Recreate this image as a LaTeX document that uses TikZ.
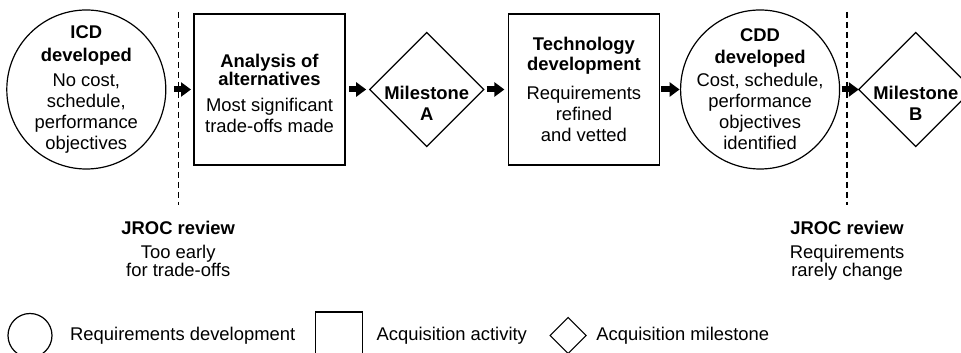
\documentclass[tikz,border=0pt]{standalone}
\usepackage{fontspec}
\setmainfont{Liberation Sans}
\usetikzlibrary{arrows.meta,shapes.geometric,positioning}

\begin{document}
\begin{tikzpicture} [
    x=1pt, y=1pt,
    font=\fontsize{18.4pt}{21pt}\selectfont,
    req/.style      = { circle, draw, line width=1.2pt, minimum size=159pt,
                        inner sep=0pt, outer sep=0pt },
    act/.style      = { rectangle, draw, line width=1.2pt,
                        minimum width=151pt, minimum height=151pt,
                        inner sep=0pt, outer sep=0pt },
    mile/.style     = { diamond, draw, line width=1.2pt, minimum width=114pt,
                        minimum height=114pt, inner sep=0pt, outer sep=0pt },
    txt/.style      = { align=center, inner sep=0pt },
    review/.style   = { align=center, inner sep=0pt,
                        font=\fontsize{18.4pt}{17pt}\selectfont },
    gate/.style     = { draw, line width=1.2pt, dash pattern=on 6pt off 4pt },
    line/.style     = { draw, line width=6pt,
                        -{Triangle[length=10pt,width=14pt]}, shorten >=2pt },
  ]
  \useasboundingbox (0,0) rectangle (961,353);

  % Define nodes in matrix
  \matrix [column sep=0pt, inner sep=0pt, anchor=west] (chain) at (6,263.5) {
\node[req, label={[txt]center:{\textbf{ICD}\\[2pt]\textbf{developed}\\[4pt]No cost,\\schedule,\\performance\\objectives}}](icd){}; &[27pt]
\node[act, label={[txt, yshift=-4pt]center:{\textbf{Analysis of}\\[-3pt]\textbf{alternatives}\\[5pt]Most significant\\trade-offs made}}](aoa){}; &[23.5pt]
\node[mile, label={[txt, yshift=-14pt]center:{\textbf{Milestone}\\\textbf{A}}}](msa){}; &[23.5pt]
\node[act, label={[txt]center:{\textbf{Technology}\\[-1pt]\textbf{development}\\[8pt]Requirements\\refined\\and vetted}}](td){}; &[20pt]
\node[req, label={[txt]center:{\textbf{CDD}\\[1pt]\textbf{developed}\\[2pt]Cost, schedule,\\performance\\objectives\\identified}}](cdd){}; &[18pt]
\node[mile, label={[txt, yshift=-14pt]center:{\textbf{Milestone}\\\textbf{B}}}](msb){}; \\
  };

  % review points
  \path (icd.east) -- coordinate[pos=.44] (gate1) (aoa.west);
  \path (cdd.east) -- coordinate[pos=.39] (gate2) (msb.west);
  \draw [gate] (gate1) ++(0,77.5) -- ++(0,-193) coordinate (gate1end);
  \draw [gate] (gate2) ++(0,77.5) -- ++(0,-193) coordinate (gate2end);
  \node [review, below=16pt of gate1end] (jroc1) {\textbf{JROC review}\\[7pt]Too early\\for trade-offs};
  \node [review, below=16pt of gate2end] (jroc2) {\textbf{JROC review}\\[7pt]Requirements\\rarely change};

  % legend
  \node [req, minimum size=44pt] (lreq) at (30,17.5) {};
  \node [txt, right=18pt of lreq] (lreqtxt) {Requirements development};
  \node [act, minimum width=47pt, minimum height=47pt, right=20pt of lreqtxt] (lact) {};
  \node [txt, right=14pt of lact] (lacttxt) {Acquisition activity};
  \node [mile, minimum width=36pt, minimum height=36pt, right=23pt of lacttxt] (lmile) {};
  \node [txt, right=10pt of lmile] (lmiletxt) {Acquisition milestone};

  % connect the nodes
		\path [line, shorten <=8pt, shorten >=3pt] (icd) -- (aoa);
		\path [line, shorten <=4pt, shorten >=3.5pt] (aoa) -- (msa);
		\path [line, shorten <=3pt, shorten >=4pt] (msa) -- (td);
		\path [line, shorten <=2pt, shorten >=1pt] (td) -- (cdd);
		\path [line, shorten <=2pt, shorten >=0pt] (cdd) -- (msb);
\end{tikzpicture}
\end{document}
